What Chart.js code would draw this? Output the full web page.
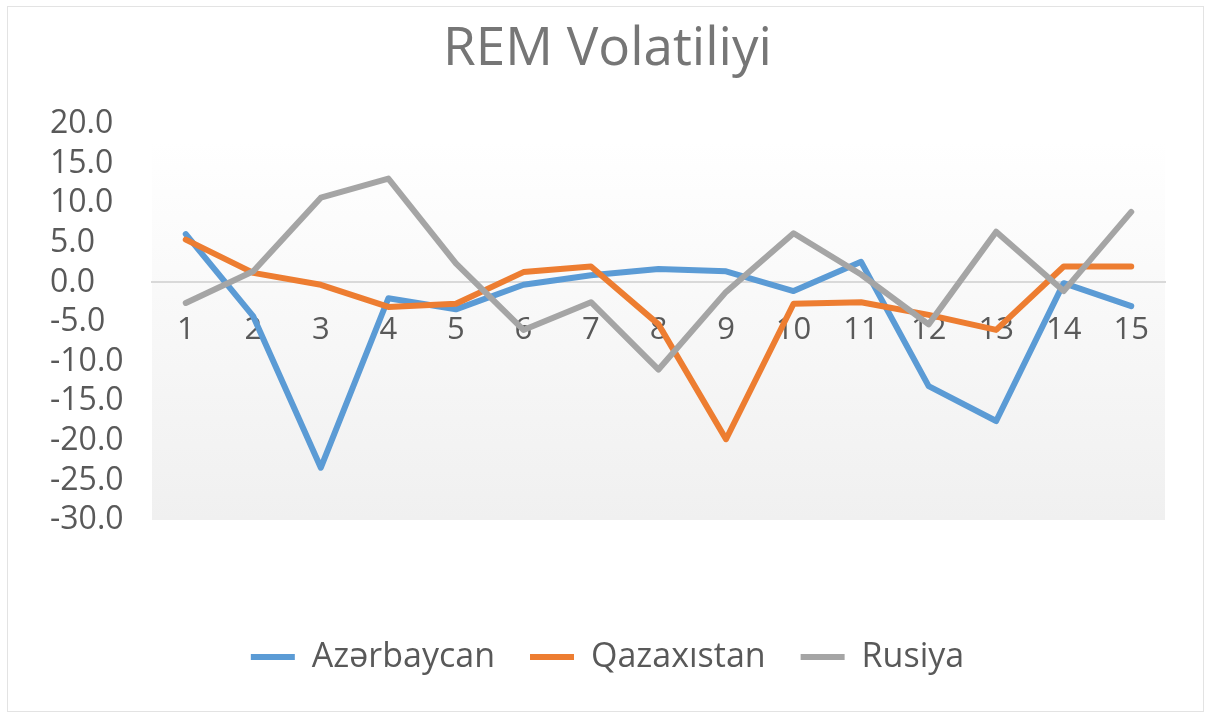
<!DOCTYPE html>
<html>
<head>
<meta charset="utf-8">
<script src="https://cdn.jsdelivr.net/npm/chart.js@4/dist/chart.umd.min.js"></script>
<style>
  html, body { margin: 0; padding: 0; background: #ffffff; }
  #wrap { position: relative; width: 1207px; height: 717px; }
  #frame { position: absolute; left: 7px; top: 6px; width: 1197px; height: 706px; border: 1px solid #e3e3e3; box-sizing: border-box; pointer-events: none; }
  canvas { position: absolute; left: 0; top: 0; }
</style>
</head>
<body>
<div id="wrap">
  <canvas id="c" width="1207" height="717"></canvas>
  <div id="frame"></div>
</div>
<script>
const chartTitle = 'REM Volatiliyi';
const categories = ['1','2','3','4','5','6','7','8','9','10','11','12','13','14','15'];
const seriesNames = ['Azərbaycan', 'Qazaxıstan', 'Rusiya'];
const azerbaycan = [6.1, -4.3, -23.4, -2.0, -3.4, -0.3, 0.9, 1.7, 1.4, -1.1, 2.6, -13.1, -17.5, -0.1, -3.0];
const qazaxistan = [5.4, 1.2, -0.3, -3.1, -2.7, 1.3, 2.0, -5.3, -19.8, -2.7, -2.5, -4.1, -6.0, 2.0, 2.0];
const rusiya = [-2.6, 1.4, 10.7, 13.1, 2.4, -6.0, -2.5, -11.0, -1.2, 6.2, 1.0, -5.3, 6.4, -1.1, 8.9];
const yMin = -30, yMax = 20, yStep = 5;
const colors = ['#5B9BD5', '#ED7D31', '#A5A5A5'];

const FONT = '"Open Sans", "Noto Sans", sans-serif';

const plotBg = {
  id: 'plotBg',
  beforeDraw(chart) {
    const {ctx, chartArea: a} = chart;
    const top = a.top + 18;
    const g = ctx.createLinearGradient(0, top, 0, a.bottom);
    g.addColorStop(0, '#ffffff');
    g.addColorStop(1, '#f0f0f0');
    ctx.save();
    ctx.fillStyle = g;
    ctx.fillRect(a.left, top, a.right - a.left, a.bottom - top);
    ctx.restore();
  }
};

const seriesData = [azerbaycan, qazaxistan, rusiya];
const datasets = seriesData.map((d, i) => ({
  label: seriesNames[i],
  data: d,
  borderColor: colors[i],
  backgroundColor: colors[i],
  borderWidth: 6,
  tension: 0,
  pointRadius: 0,
  pointHoverRadius: 0,
  borderJoinStyle: 'round',
  borderCapStyle: 'round',
  order: seriesData.length - 1 - i
}));

new Chart(document.getElementById('c'), {
  type: 'line',
  data: { labels: categories, datasets },
  plugins: [plotBg],
  options: {
    responsive: false,
    animation: false,
    events: [],
    layout: { padding: { left: 50, right: 42, top: 0, bottom: 33 } },
    plugins: {
      title: {
        display: true,
        text: chartTitle,
        color: '#767676',
        font: { family: FONT, size: 53, weight: 'normal' },
        padding: { top: 18, bottom: 42.4 }
      },
      legend: {
        position: 'bottom',
        labels: {
          color: '#595959',
          font: { family: FONT, size: 34 },
          boxWidth: 44,
          boxHeight: 6,
          padding: 35,
          sort: (a, b) => a.datasetIndex - b.datasetIndex,
          generateLabels: (chart) => Chart.defaults.plugins.legend.labels.generateLabels(chart).map(l => Object.assign(l, { lineWidth: 0 }))
        }
      },
      tooltip: { enabled: false }
    },
    scales: {
      x: {
        type: 'category',
        position: { y: 0 },
        offset: true,
        grid: { display: false },
        border: { display: true, color: '#d9d9d9', width: 2 },
        ticks: { color: '#595959', font: { family: FONT, size: 31 }, padding: 21, maxRotation: 0, autoSkip: false }
      },
      xPad: {
        type: 'category',
        position: 'bottom',
        display: true,
        grid: { display: false },
        border: { display: false },
        ticks: { display: false },
        afterFit(s) { s.height = 85; }
      },
      y: {
        position: 'left',
        min: yMin,
        max: yMax,
        grid: { display: false },
        border: { display: false },
        ticks: {
          stepSize: yStep,
          autoSkip: false,
          color: '#595959',
          font: { family: FONT, size: 32 },
          crossAlign: 'far',
          padding: 0,
          callback: (v) => Number(v).toFixed(1)
        },
        afterFit(s) { s.width = 102; }
      }
    }
  }
});
</script>
</body>
</html>
